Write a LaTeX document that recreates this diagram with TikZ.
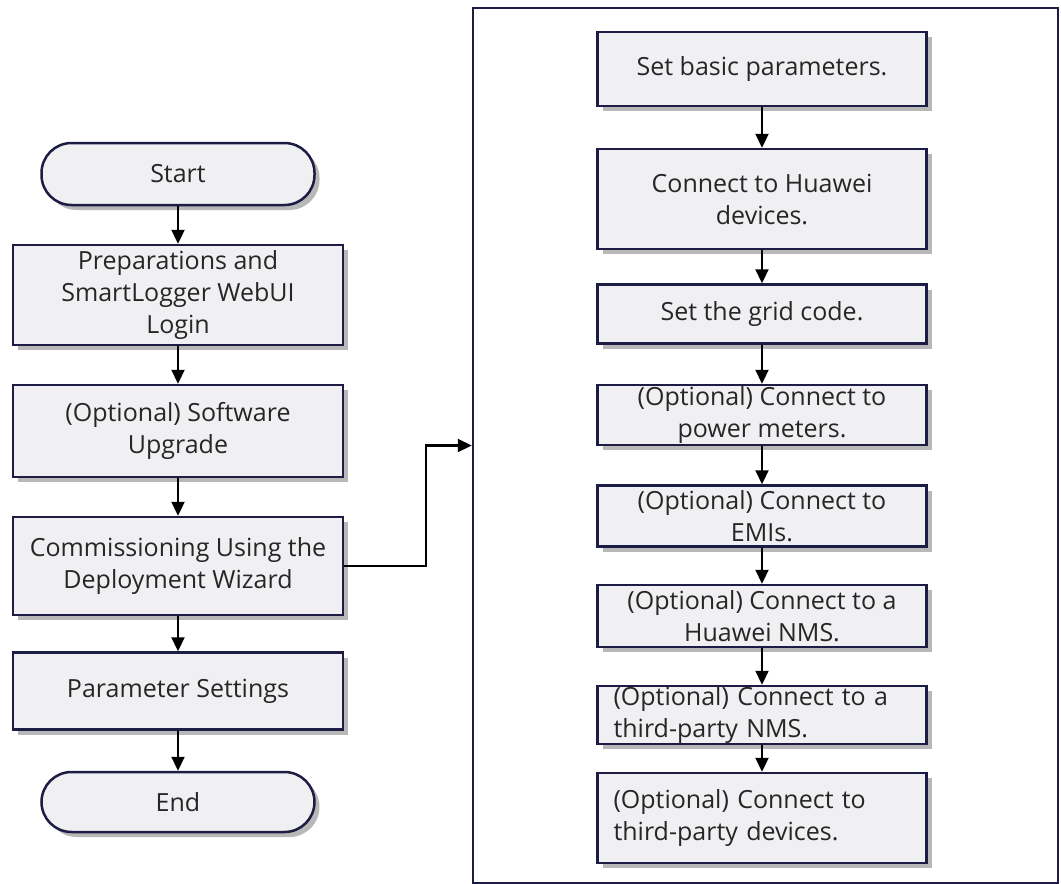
\documentclass[tikz,border=0pt]{standalone}
\usepackage{fontspec}
\setmainfont{Open Sans}
\usetikzlibrary{arrows.meta,shadows}
\definecolor{boxline}{RGB}{28,28,68}
\definecolor{boxfill}{RGB}{240,240,243}
\tikzset{
	stepbox/.style={draw=boxline, line width=2.5pt, fill=boxfill, inner sep=0pt, align=center,
		font=\fontsize{25}{32}\selectfont, text=black!85,
		drop shadow={shadow xshift=5pt, shadow yshift=-5pt, fill=black!28, opacity=1}},
	terminal/.style={stepbox, rounded corners=30pt},
	flow/.style={line width=2.2pt, -{Triangle[length=14pt,width=13pt]}},
}
\begin{document}
\begin{tikzpicture}[x=1pt, y=-1pt]
			
			\useasboundingbox (0,0) rectangle (1061,884);

			% wizard frame
			\node[draw=boxline, line width=2.5pt, minimum width=585, minimum height=875] (wizard) at (765.5,445.5) {};

			% main flow
			\node[terminal, minimum width=273, minimum height=62] (start) at (178,174) {Start};
\node[stepbox, minimum width=330, minimum height=100] (prep) at (178,295) {Preparations and\\SmartLogger WebUI\\Login};
\node[stepbox, minimum width=330, minimum height=92] (soft) at (178,431) {(Optional) Software\\Upgrade};
\node[stepbox, minimum width=330, minimum height=98] (comm) at (178,566) {Commissioning Using the\\Deployment Wizard};
\node[stepbox, minimum width=330, minimum height=77] (param) at (178,691) {Parameter Settings};
\node[terminal, minimum width=273, minimum height=60] (end) at (178,802) {End};

			% wizard steps
			\node[stepbox, minimum width=329, minimum height=74] (basic) at (762,69) {Set basic parameters.};
\node[stepbox, minimum width=329, minimum height=100] (hwdev) at (762,199) {Connect to Huawei\\devices.};
\node[stepbox, minimum width=329, minimum height=59] (grid) at (762,314) {Set the grid code.};
\node[stepbox, minimum width=329, minimum height=60] (meter) at (762,415) {(Optional) Connect to\\power meters.};
\node[stepbox, minimum width=329, minimum height=61] (emi) at (762,516) {(Optional) Connect to\\EMIs.};
\node[stepbox, minimum width=329, minimum height=62] (hwnms) at (762,616) {(Optional) Connect to a\\Huawei NMS.};
\node[stepbox, minimum width=329, minimum height=58, text width=297, align=left] (tpnms) at (762,715) {(Optional) Connect to a\\third-party NMS.};
\node[stepbox, minimum width=329, minimum height=90, text width=297, align=left] (tpdev) at (762,818) {(Optional) Connect to\\third-party devices.};

			\draw[flow] (start) -- (prep);
\draw[flow] (prep) -- (soft);
\draw[flow] (soft) -- (comm);
\draw[flow] (comm) -- (param);
\draw[flow] (param) -- (end);
\draw[flow] (comm.east) -- ++(82,0) |- (wizard.west);

			\draw[flow] (basic) -- (hwdev);
\draw[flow] (hwdev) -- (grid);
\draw[flow] (grid) -- (meter);
\draw[flow] (meter) -- (emi);
\draw[flow] (emi) -- (hwnms);
\draw[flow] (hwnms) -- (tpnms);
\draw[flow] (tpnms) -- (tpdev);

			
		\end{tikzpicture}
\end{document}
